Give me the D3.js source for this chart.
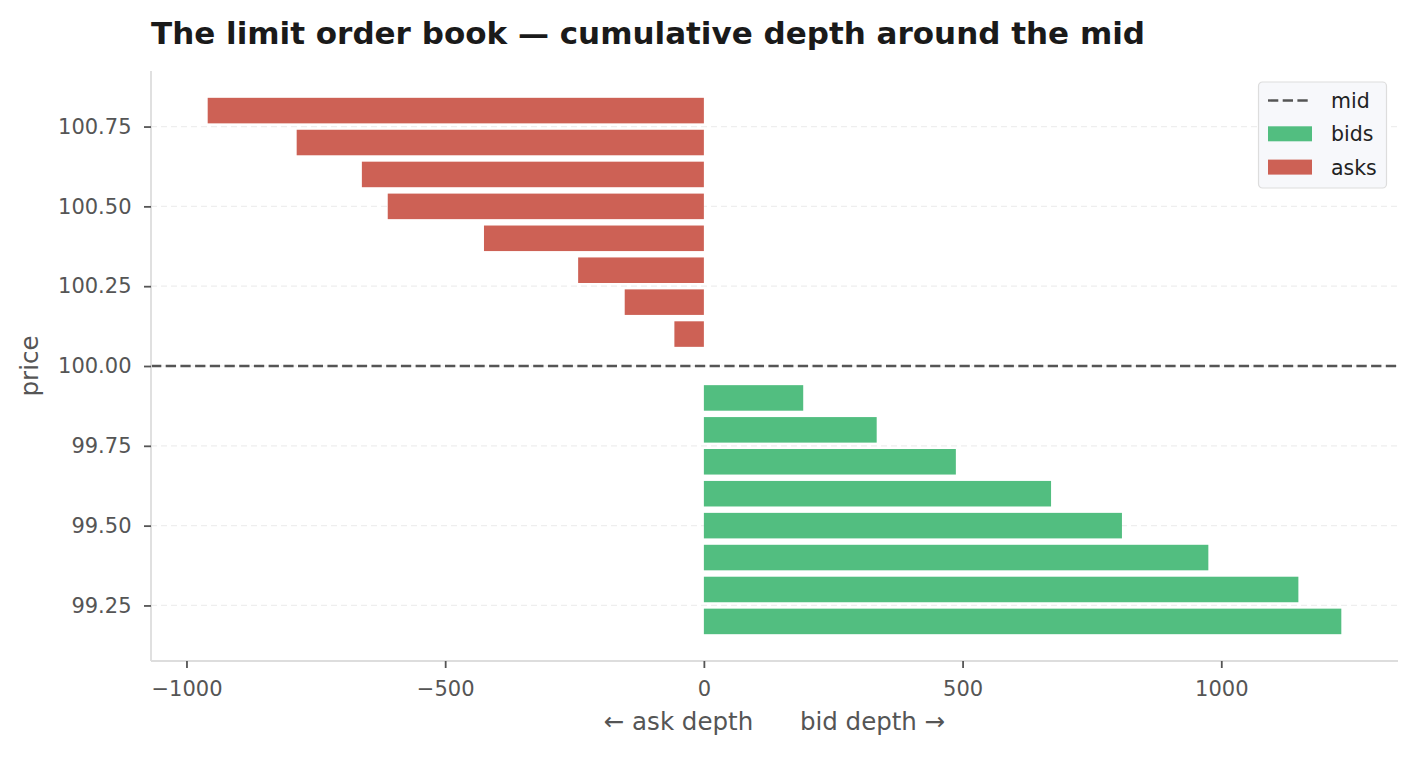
<!DOCTYPE html>
<html>
<head>
<meta charset="utf-8">
<script src="https://cdn.jsdelivr.net/npm/d3@7"></script>
<style>
  body { margin: 0; background: #fff; }
  svg text { font-family: "DejaVu Sans", sans-serif; }
</style>
</head>
<body>
<script>
// price levels and cumulative depth
var askPrices = [100.1, 100.2, 100.3, 100.4, 100.5, 100.6, 100.7, 100.8];
var askDepth  = [57, 153, 243, 425, 611, 661, 787, 959];
var bidPrices = [99.9, 99.8, 99.7, 99.6, 99.5, 99.4, 99.3, 99.2];
var bidDepth  = [192, 334, 487, 671, 808, 975, 1149, 1232];
var midPrice = 100.0;
var yTicks = [99.25, 99.5, 99.75, 100.0, 100.25, 100.5, 100.75];
var xTicks = [-1000, -500, 0, 500, 1000];
var barHeight = 0.08;

var W = 1418, H = 757;
var margin = { top: 71, right: 20, bottom: 96, left: 151 },
    width = W - margin.left - margin.right,
    height = H - margin.top - margin.bottom;

var svg = d3.select("body").append("svg")
    .attr("width", W)
    .attr("height", H);

var g = svg.append("g")
    .attr("transform", "translate(" + margin.left + "," + margin.top + ")");

var asks = askPrices.map(function(p, i) { return { price: p, depth: -askDepth[i] }; });
var bids = bidPrices.map(function(p, i) { return { price: p, depth: bidDepth[i] }; });

// matplotlib-like 5% margins
var xmin = d3.min(asks, function(d) { return d.depth; }), xmax = d3.max(bids, function(d) { return d.depth; });
var xpad = (xmax - xmin) * 0.05;
var ymin = d3.min(bidPrices) - barHeight / 2, ymax = d3.max(askPrices) + barHeight / 2;
var ypad = (ymax - ymin) * 0.05;

var x = d3.scaleLinear().domain([xmin - xpad, xmax + xpad]).range([0, width]);
var y = d3.scaleLinear().domain([ymin - ypad, ymax + ypad]).range([height, 0]);

// horizontal grid
g.selectAll(".grid-line")
    .data(yTicks)
    .enter().append("line")
    .attr("x1", 0).attr("x2", width)
    .attr("y1", function(d) { return y(d); })
    .attr("y2", function(d) { return y(d); })
    .attr("stroke", "#eeeeee")
    .attr("stroke-width", 1.2)
    .attr("stroke-dasharray", "6,4");

// bars
g.selectAll(".ask")
    .data(asks)
    .enter().append("rect")
    .attr("x", function(d) { return x(d.depth); })
    .attr("width", function(d) { return x(0) - x(d.depth); })
    .attr("y", function(d) { return y(d.price + barHeight / 2); })
    .attr("height", function(d) { return y(d.price - barHeight / 2) - y(d.price + barHeight / 2); })
    .attr("fill", "#cd6155");

g.selectAll(".bid")
    .data(bids)
    .enter().append("rect")
    .attr("x", x(0))
    .attr("width", function(d) { return x(d.depth) - x(0); })
    .attr("y", function(d) { return y(d.price + barHeight / 2); })
    .attr("height", function(d) { return y(d.price - barHeight / 2) - y(d.price + barHeight / 2); })
    .attr("fill", "#52be80");

// mid line
g.append("line")
    .attr("x1", 0).attr("x2", width)
    .attr("y1", y(midPrice)).attr("y2", y(midPrice))
    .attr("stroke", "#555555")
    .attr("stroke-width", 2.4)
    .attr("stroke-dasharray", "10.3,4.4");

// axes
var xAxis = g.append("g")
    .attr("transform", "translate(0," + height + ")")
    .call(d3.axisBottom(x).tickValues(xTicks).tickSize(7).tickPadding(13.5)
        .tickFormat(function(d) { return d < 0 ? "\u2212" + Math.abs(d) : d; }));
var yAxis = g.append("g")
    .call(d3.axisLeft(y).tickValues(yTicks).tickSize(7).tickPadding(12.5).tickFormat(d3.format(".2f")));

[xAxis, yAxis].forEach(function(a) {
    a.select(".domain").attr("stroke", "#dddddd").attr("stroke-width", 1.8);
    a.selectAll(".tick line").attr("stroke", "#555555").attr("stroke-width", 1.8);
    a.selectAll(".tick text").attr("fill", "#555555").style("font-size", "21px").style("font-family", "DejaVu Sans");
});
// hide domain end caps
xAxis.select(".domain").attr("d", "M0,0H" + width);
yAxis.select(".domain").attr("d", "M0,0V" + height);

// axis labels
svg.append("text")
    .attr("x", margin.left + width / 2)
    .attr("y", 730)
    .attr("text-anchor", "middle")
    .attr("fill", "#555555")
    .style("font-size", "24.5px")
    .style("white-space", "pre")
    .attr("xml:space", "preserve")
    .text("\u2190 ask depth      bid depth \u2192");

svg.append("text")
    .attr("transform", "translate(38," + (margin.top + height / 2) + ") rotate(-90)")
    .attr("text-anchor", "middle")
    .attr("fill", "#555555")
    .style("font-size", "24.5px")
    .text("price");

// title
svg.append("text")
    .attr("x", margin.left)
    .attr("y", 44)
    .attr("fill", "#1a1a1a")
    .style("font-size", "31px")
    .style("font-weight", "bold")
    .text("The limit order book \u2014 cumulative depth around the mid");

// legend
var legend = svg.append("g").attr("transform", "translate(1258.5,82)");
legend.append("rect")
    .attr("width", 128).attr("height", 106)
    .attr("rx", 4)
    .attr("fill", "#f7f8fb")
    .attr("stroke", "#dddddd")
    .attr("stroke-width", 1.2);
var items = [
    { label: "mid", type: "line", color: "#555555" },
    { label: "bids", type: "rect", color: "#52be80" },
    { label: "asks", type: "rect", color: "#cd6155" }
];
items.forEach(function(it, i) {
    var cy = 18.5 + i * 33.3;
    if (it.type === "line") {
        legend.append("line")
            .attr("x1", 9.5).attr("x2", 53.5)
            .attr("y1", cy).attr("y2", cy)
            .attr("stroke", it.color).attr("stroke-width", 2.4)
            .attr("stroke-dasharray", "10.3,4.4");
    } else {
        legend.append("rect")
            .attr("x", 9.5).attr("y", cy - 7.5)
            .attr("width", 44).attr("height", 15)
            .attr("fill", it.color);
    }
    legend.append("text")
        .attr("x", 72.5).attr("y", cy + 7.5)
        .attr("fill", "#222222")
        .style("font-size", "20.5px")
        .text(it.label);
});
</script>
</body>
</html>
